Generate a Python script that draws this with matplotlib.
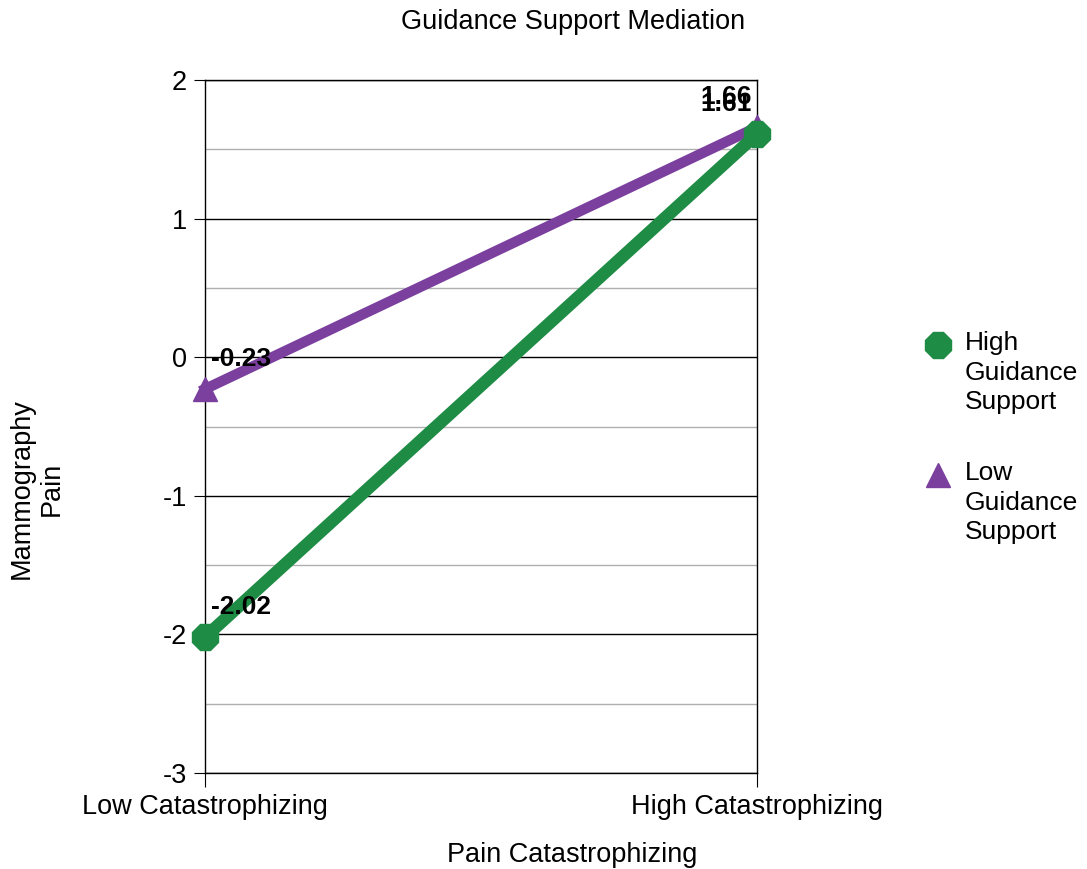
import matplotlib.pyplot as plt
from matplotlib.lines import Line2D
from matplotlib.ticker import MultipleLocator

plt.rcParams['font.family'] = ['Liberation Sans', 'DejaVu Sans']
plt.rcParams['axes.unicode_minus'] = False

categories = ["Low Catastrophizing", "High Catastrophizing"]
high_support = [-2.02, 1.61]
low_support = [-0.23, 1.66]
series_names = ["High\nGuidance\nSupport", "Low\nGuidance\nSupport"]

green = "#1e8c45"
purple = "#7b3f9e"

fig = plt.figure(figsize=(10.87, 8.69), dpi=100)
ax = fig.add_axes([0.1886, 0.1105, 0.5078, 0.7974])

x = [0, 1]
ax.plot(x, high_support, color=green, lw=9, marker="8", ms=20,
        clip_on=False, zorder=4)
ax.plot(x, low_support, color=purple, lw=7.5, marker="^", ms=17,
        clip_on=False, zorder=3)

# data labels, slightly above each point
for vals in (high_support, low_support):
    ax.annotate(f"{vals[0]:.2f}", (x[0], vals[0]), xytext=(4, 22),
                textcoords="offset points", ha="left", va="center",
                fontsize=19, fontweight="bold", zorder=5)
    ax.annotate(f"{vals[1]:.2f}", (x[1], vals[1]), xytext=(-4, 22),
                textcoords="offset points", ha="right", va="center",
                fontsize=19, fontweight="bold", zorder=5)

ax.set_xlim(0, 1)
ax.set_ylim(-3, 2)
ax.set_xticks(x)
ax.set_xticklabels(categories, fontsize=19.5)
ax.yaxis.set_major_locator(MultipleLocator(1))
ax.yaxis.set_minor_locator(MultipleLocator(0.5))
ax.tick_params(axis="y", which="major", length=8, labelsize=19.5, pad=5)
ax.tick_params(axis="y", which="minor", length=0)
ax.tick_params(axis="x", length=10, pad=5)
ax.grid(axis="y", which="major", color="black", lw=1)
ax.grid(axis="y", which="minor", color="#b0b0b0", lw=1)
ax.set_axisbelow(True)
for s in ax.spines.values():
    s.set_color("black")
    s.set_linewidth(1)

fig.text(0.527, 0.975, "Guidance Support Mediation", fontsize=19.5,
         ha="center", va="center")
ax.set_xlabel("Pain Catastrophizing", fontsize=19.5, va="center")
ax.xaxis.set_label_coords(0.665, -0.118)
ax.set_ylabel("Mammography\nPain", fontsize=19.5, va="center")
ax.yaxis.set_label_coords(-0.304, 0.41)

# legend: marker beside first line of each wrapped label
leg_y = [345, 475]
for name, color, marker, ms, yy in zip(series_names, [green, purple], ["8", "^"],
                                       [20, 17], leg_y):
    fy = 1 - yy / 869
    fig.add_artist(Line2D([938 / 1087], [fy], transform=fig.transFigure,
                          marker=marker, ms=ms, color=color, ls="none"))
    fig.text(965 / 1087, fy + 14 / 869, name, fontsize=19, ha="left", va="top",
             linespacing=1.3)

fig.savefig("out.png", dpi=100)
